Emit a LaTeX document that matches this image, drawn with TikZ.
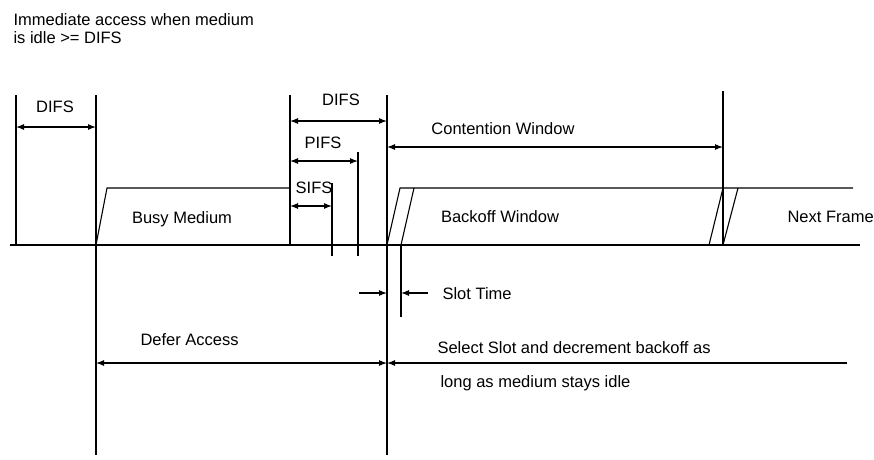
\documentclass[tikz,border=0pt]{standalone}
\usepackage{fontspec}
\setmainfont{Liberation Sans}
\usetikzlibrary{arrows.meta}

\begin{document}
\begin{tikzpicture}[
      x=1pt, y=-1pt,
      >={Latex[length=8pt, width=6pt]},
      font=\fontsize{16.5}{18}\selectfont,
      line width=1.1pt,
      lbl/.style={inner sep=0pt, anchor=base},
      lblw/.style={inner sep=0pt, anchor=base west},
      dim/.style={<->},
      arr/.style={->},
    ]
      \useasboundingbox (0,0) rectangle (874,459);

      % time marks
      \coordinate (t0) at (16,245);
      \coordinate (t1) at (96,245);
      \coordinate (t2) at (290,245);
      \coordinate (sifs) at (332,245);
      \coordinate (pifs) at (358,245);
      \coordinate (t3) at (387,245);
      \coordinate (slot) at (401,245);
      \coordinate (cw) at (723,245);

      % heading
      \node[lblw] (head1) at (13,25) {Immediate access when medium};
      \node[lblw] (head2) at (13,43) {is idle >= DIFS};

      % medium
      \draw (10,245) -- (860,245);
      \draw (t0) -- (16,95);
      \draw (96,95) -- (96,455);
      \draw (t2) -- (290,95);
      \draw (332,256) -- (332,183);
      \draw (358,256) -- (358,152);
      \draw (387,95) -- (387,455);
      \draw (401,317) -- (slot);
      \draw (cw) -- (723,91);
      \draw (t1) -- (107,188) -- (289,188);
      \draw (t3) -- (400,188) -- (853,188);
      \draw (slot) -- (414,188);
      \draw (709,245) -- (723,188);
      \draw (cw) -- (738,188);

      \node[lbl] (busy) at (182,223) {Busy Medium};
      \node[lbl] (backoff) at (500,222) {Backoff Window};
      \node[lblw] (next) at (787,222) {Next Frame};

      % interframe spaces
      \coordinate (d1a) at (16,127);
      \coordinate (d1b) at (96,127);
      \coordinate (d2a) at (290,121);
      \coordinate (d2b) at (387,121);
      \coordinate (pa) at (290,161);
      \coordinate (pb) at (358,161);
      \coordinate (sa) at (290,206);
      \coordinate (sb) at (332,206);
      \coordinate (ca) at (387,147);
      \coordinate (cb) at (723,147);
      \draw[dim] (d1a) -- (d1b);
      \draw[dim] (d2a) -- (d2b);
      \draw[dim] (pa) -- (pb);
      \draw[dim] (sa) -- (sb);
      \draw[dim] (ca) -- (cb);
      \node[lbl] (difs1) at (55,112) {DIFS};
      \node[lbl] (difs2) at (341,105) {DIFS};
      \node[lbl] (pifsl) at (323,148) {PIFS};
      \node[lbl] (sifsl) at (314,193) {SIFS};
      \node[lbl] (cwl) at (503,134) {Contention Window};

      % slot time
      \coordinate (sl1) at (359,293);
      \coordinate (sl2) at (387,293);
      \coordinate (sr1) at (428,293);
      \coordinate (sr2) at (401,293);
      \draw[arr] (sl1) -- (sl2);
      \draw[arr] (sr1) -- (sr2);
      \node[lblw] (slotl) at (442,299) {Slot Time};

      % defer and backoff
      \coordinate (da) at (96,363);
      \coordinate (db) at (387,363);
      \coordinate (be) at (847,363);
      \draw[dim] (da) -- (db);
      \draw[arr] (be) -- (db);
      \node[lblw] (defer) at (140,345) {Defer Access};
      \node[lblw] (sel1) at (437,353) {Select Slot and decrement backoff as};
      \node[lblw] (sel2) at (440,387) {long as medium stays idle};

    \end{tikzpicture}
\end{document}
